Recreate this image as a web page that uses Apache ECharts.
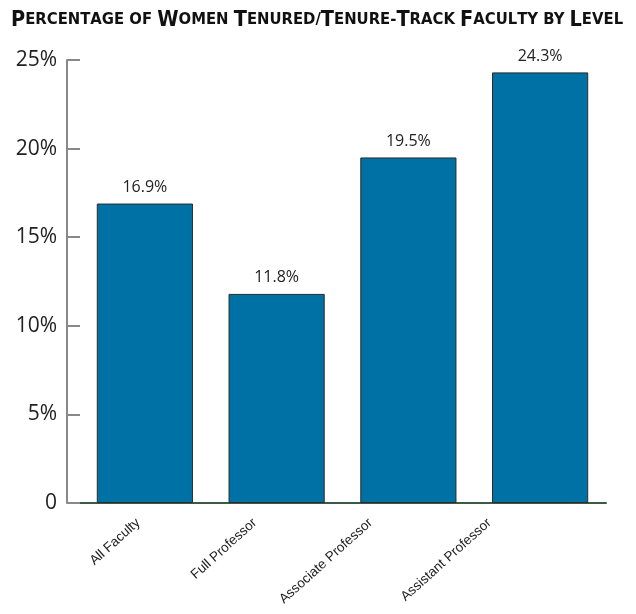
<!DOCTYPE html>
<html><head><meta charset="utf-8">
<script src="https://cdn.jsdelivr.net/npm/echarts@6/dist/echarts.min.js"></script>
<style>html,body{margin:0;padding:0;background:#fff}#c{width:636px;height:614px}</style>
</head><body><div id="c"></div>
<script>
const categories = ["All Faculty", "Full Professor", "Associate Professor", "Assistant Professor"];
const values = [16.9, 11.8, 19.5, 24.3];
const yTicks = [0, 5, 10, 15, 20, 25];
const titleWords = ["PERCENTAGE", "OF", "WOMEN", "TENURED/TENURE-TRACK", "FACULTY", "BY", "LEVEL"];

function smallCaps(words) {
  return words.map(w => {
    if (w === "OF" || w === "BY") return "{s|" + w + "}";
    let out = "";
    let cap = true;
    for (const ch of w) {
      if (/[A-Z]/.test(ch)) {
        out += cap ? "{b|" + ch + "}" : "{s|" + ch + "}";
        cap = false;
      } else {
        out += "{s|" + ch + "}";
        cap = true;
      }
    }
    return out;
  }).join("{s| }");
}

// horizontal leftward nudge of each rotated category label (style only)
const labelNudge = [0, 15, 31, 44];
const labelRich = {};
labelNudge.forEach((dx, i) => {
  labelRich['l' + i] = {
    fontFamily: 'Liberation Sans', fontSize: 13.5, color: '#222',
    padding: [0, 9 + 0.743 * dx, 1.344 * dx, 0]
  };
});

const chart = echarts.init(document.getElementById('c'));
chart.setOption({
  animation: false,
  title: {
    text: smallCaps(titleWords),
    left: 6, top: 4,
    textStyle: {
      rich: {
        b: { fontFamily: "DejaVu Sans Condensed", fontWeight: "bold", fontSize: 21.5, color: "#111" },
        s: { fontFamily: "DejaVu Sans Condensed", fontWeight: "bold", fontSize: 16.5, color: "#111" }
      }
    }
  },
  grid: { left: 79, right: 30, top: 60, bottom: 111 },
  xAxis: {
    type: 'category',
    data: categories,
    axisLine: { show: true, lineStyle: { color: '#3c5a45', width: 2 } },
    axisTick: { show: false },
    axisLabel: {
      rotate: 42, interval: 0, margin: 12,
      formatter: (v, i) => '{l' + i + '|' + v + '}',
      rich: labelRich
    }
  },
  yAxis: {
    type: 'value',
    min: 0, max: 25, interval: 5,
    offset: 12,
    axisLine: { show: true, lineStyle: { color: '#888', width: 2 } },
    axisTick: { show: true, inside: true, length: 13, lineStyle: { color: '#888', width: 2 } },
    splitLine: { show: false },
    axisLabel: {
      fontFamily: 'Open Sans', fontSize: 21, color: '#222', margin: 10,
      formatter: v => yTicks.includes(v) ? (v === 0 ? '0' : v + '%') : ''
    }
  },
  series: [{
    type: 'bar',
    data: values,
    barWidth: '73%',
    itemStyle: { color: '#0071a4', borderColor: '#2b2b2b', borderWidth: 1 },
    label: {
      show: true, position: 'top', distance: 8,
      formatter: p => p.value.toFixed(1) + '%',
      fontFamily: 'Open Sans', fontSize: 16, color: '#222'
    }
  }]
});
</script></body></html>
